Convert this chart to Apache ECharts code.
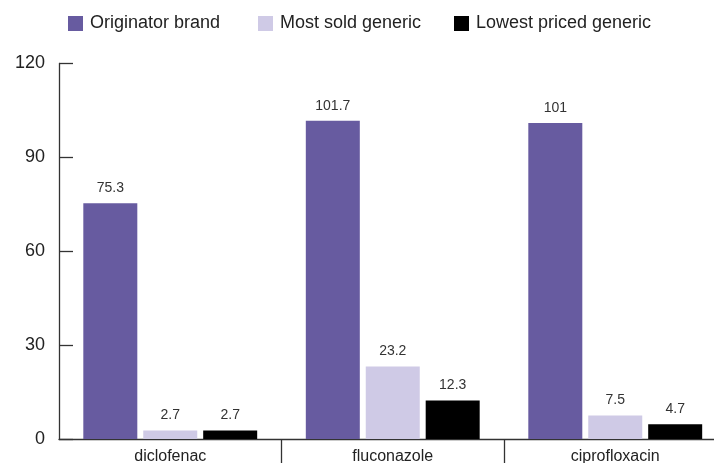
<!DOCTYPE html>
<html><head><meta charset="utf-8">
<script src="https://cdn.jsdelivr.net/npm/echarts@6/dist/echarts.min.js"></script>
<style>html,body{margin:0;padding:0;background:#fff}#c{width:714px;height:463px}</style>
</head><body><div id="c"></div>
<script>
const categories = ['diclofenac', 'fluconazole', 'ciprofloxacin'];
const originatorBrand = [75.3, 101.7, 101];
const mostSoldGeneric = [2.7, 23.2, 7.5];
const lowestPricedGeneric = [2.7, 12.3, 4.7];
const seriesNames = ['Originator brand', 'Most sold generic', 'Lowest priced generic'];
const yTicks = [0, 30, 60, 90, 120];
const colors = ['#675ba0', '#cfcae6', '#000000'];

const FONT = 'Liberation Sans, Arial, sans-serif';
const chart = echarts.init(document.getElementById('c'), null, {renderer: 'canvas'});
const mk = (name, data, color) => ({
  name, type: 'bar', data, barWidth: 54, barGap: '11%',
  itemStyle: {color},
  label: {show: true, position: 'top', distance: 8, color: '#333', fontSize: 14, fontFamily: FONT}
});
const legendLefts = [68, 258, 454];
chart.setOption({
  animation: false,
  color: colors,
  legend: seriesNames.map((n, i) => ({
    left: legendLefts[i], top: 14.5, padding: 0, itemWidth: 15, itemHeight: 15,
    icon: 'rect', itemStyle: {borderWidth: 0},
    textStyle: {fontSize: 18, color: '#222', fontFamily: FONT, padding: [0, 0, 0, 2]},
    data: [n]
  })),
  grid: {left: 59, width: 667.5, top: 63.5, bottom: 24, containLabel: false, outerBoundsMode: 'none'},
  xAxis: {
    type: 'category', data: categories,
    axisLine: {lineStyle: {color: '#333', width: 1.3}},
    axisTick: {show: true, length: 28, interval: (i) => i > 0, lineStyle: {color: '#333', width: 1.3}},
    axisLabel: {fontSize: 16, color: '#222', margin: 10, fontFamily: FONT}
  },
  yAxis: {
    type: 'value', min: yTicks[0], max: yTicks[yTicks.length - 1], interval: yTicks[1] - yTicks[0],
    axisLine: {show: true, lineStyle: {color: '#333', width: 1.3}},
    axisTick: {show: true, inside: true, length: 14, lineStyle: {color: '#333', width: 1.3}},
    splitLine: {show: false},
    axisLabel: {fontSize: 18, color: '#222', margin: 14, fontFamily: FONT}
  },
  series: [
    mk(seriesNames[0], originatorBrand, colors[0]),
    mk(seriesNames[1], mostSoldGeneric, colors[1]),
    mk(seriesNames[2], lowestPricedGeneric, colors[2])
  ]
});
</script></body></html>
